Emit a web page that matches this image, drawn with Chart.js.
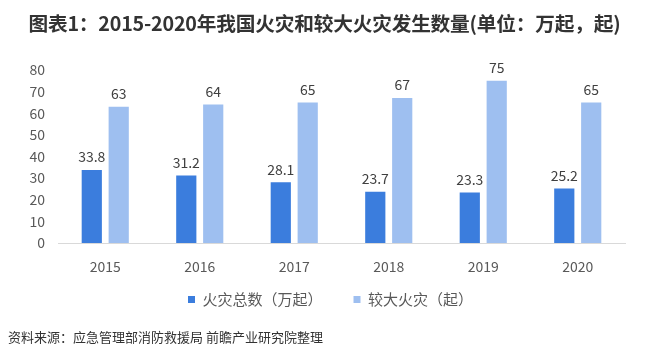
<!DOCTYPE html>
<html><head><meta charset="utf-8">
<script src="https://cdn.jsdelivr.net/npm/chart.js@4/dist/chart.umd.min.js"></script>
<style>
html,body{margin:0;padding:0;background:#fff;}
#wrap{position:relative;width:649px;height:363px;overflow:hidden;}
#title{position:absolute;left:0;top:8px;width:649px;text-align:center;font:bold 19.7px "Noto Sans CJK SC",sans-serif;color:#333;letter-spacing:-0.2px;white-space:nowrap;}
#src{position:absolute;left:8px;top:327px;font:13px "Noto Sans CJK SC",sans-serif;color:#333;white-space:nowrap;}
#c{position:absolute;left:0;top:0;}
</style></head>
<body><div id="wrap">
<canvas id="c" width="649" height="363"></canvas>
<div id="title">图表1：2015-2020年我国火灾和较大火灾发生数量(单位：万起，起)</div>
<div id="src">资料来源：应急管理部消防救援局 前瞻产业研究院整理</div>
</div>
<script>
const categories = ["2015","2016","2017","2018","2019","2020"];
const seriesNames = ["火灾总数（万起）","较大火灾（起）"];
const fires = [33.8,31.2,28.1,23.7,23.3,25.2];
const majorFires = [63,64,65,67,75,65];
const yTicks = [0,10,20,30,40,50,60,70,80];

const labelPlugin = {
  id:'barLabels',
  afterDatasetsDraw(chart){
    const ctx = chart.ctx;
    ctx.save();
    ctx.font = '14px "Noto Sans CJK SC", sans-serif';
    ctx.fillStyle = '#404040';
    ctx.textAlign = 'center';
    ctx.textBaseline = 'middle';
    chart.data.datasets.forEach((ds,i)=>{
      chart.getDatasetMeta(i).data.forEach((bar,j)=>{
        ctx.fillText(String(ds.data[j]), bar.x, bar.y - 13);
      });
    });
    ctx.restore();
  }
};
const legendShift = {
  id:'legendShift',
  afterLayout(chart){
    const lg = chart.legend;
    if(lg){ lg.top -= 18; lg.bottom -= 18; lg.left += 18; lg.right += 18; }
  }
};

Chart.defaults.font.family = '"Noto Sans CJK SC", sans-serif';
new Chart(document.getElementById('c'),{
  type:'bar',
  data:{
    labels:categories,
    datasets:[
      {label:seriesNames[0],data:fires,backgroundColor:'#3b7ddd'},
      {label:seriesNames[1],data:majorFires,backgroundColor:'#9ebff0'}
    ]
  },
  options:{
    responsive:false,
    animation:false,
    categoryPercentage:0.57,
    barPercentage:0.75,
    layout:{padding:{top:70,right:24,left:0,bottom:28}},
    plugins:{
      legend:{
        position:'bottom',
        labels:{boxWidth:7,boxHeight:7,padding:31,color:'#595959',font:{size:15}}
      },
      tooltip:{enabled:false}
    },
    scales:{
      x:{
        grid:{display:false,drawTicks:false},
        border:{display:true,color:'#d9d9d9'},
        ticks:{color:'#595959',font:{size:14},padding:15},
        afterFit(s){s.height=36;}
      },
      y:{
        min:0,max:80,
        afterBuildTicks(s){s.ticks=yTicks.map(v=>({value:v}));},
        grid:{display:false,drawTicks:false},
        border:{display:false},
        ticks:{color:'#595959',font:{size:14},padding:13},
        afterFit(s){s.width=58;}
      }
    }
  },
  plugins:[labelPlugin, legendShift]
});
</script>
</body></html>
